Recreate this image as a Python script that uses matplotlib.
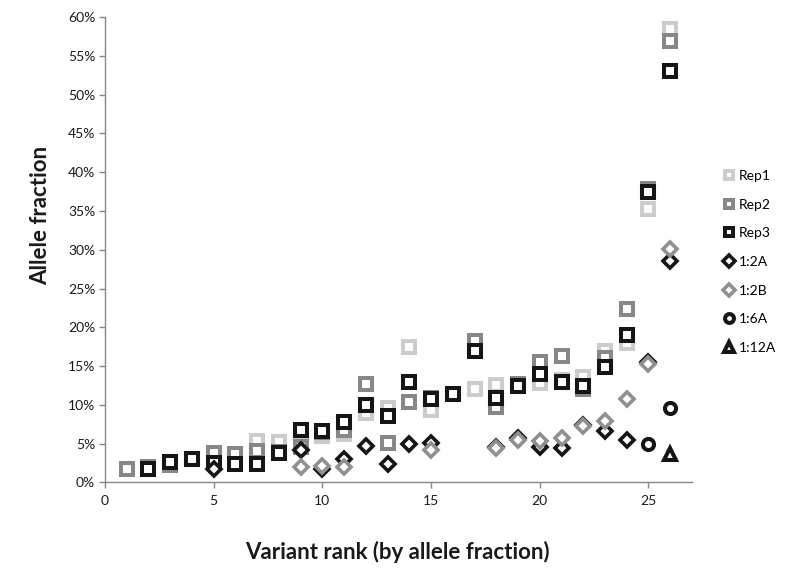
import numpy as np
import matplotlib
matplotlib.use("Agg")
import matplotlib.pyplot as plt
from matplotlib.ticker import FuncFormatter, MultipleLocator

plt.rcParams['font.family'] = ['Lato', 'DejaVu Sans']

# ---- data (allele fraction, %) ----
rep_rank = list(range(1, 27))
rep1 = [1.8, 2.0, 2.4, 3.0, 3.4, 3.4, 5.3, 5.2, 6.5, 6.0, 6.3, 9.0, 9.6, 17.4, 9.4,
        11.4, 12.1, 12.6, 12.6, 12.8, 13.2, 13.6, 17.0, 18.0, 35.2, 58.5]
rep2 = [1.8, 2.0, 2.3, 3.0, 3.8, 3.7, 4.1, 3.9, 4.6, 6.5, 6.8, 12.7, 5.1, 10.4, 10.9,
        11.4, 18.3, 9.7, 12.7, 15.5, 16.3, 12.0, 16.1, 22.3, 37.8, 56.9]
rep3 = [np.nan, 1.8, 2.6, 3.0, 2.5, 2.4, 2.4, 3.8, 6.8, 6.6, 7.8, 10.0, 8.6, 13.0, 10.8,
        11.4, 17.0, 10.9, 12.4, 14.0, 13.0, 12.4, 14.9, 19.0, 37.4, 53.0]

a12_rank = [5, 9, 10, 11, 12, 13, 14, 15, 18, 19, 20, 21, 22, 23, 24, 25, 26]
a12 = [1.8, 4.2, 1.7, 3.0, 4.7, 2.4, 5.0, 5.1, 4.6, 5.7, 4.6, 4.5, 7.4, 6.6, 5.5, 15.5, 28.6]

b12_rank = [9, 10, 11, 15, 18, 19, 20, 21, 22, 23, 24, 25, 26]
b12 = [2.0, 2.1, 2.0, 4.2, 4.4, 5.5, 5.3, 5.7, 7.3, 7.9, 10.8, 15.3, 30.1]

a16_rank = [25, 26]
a16 = [5.0, 9.6]

a112_rank = [26]
a112 = [3.7]

labels = ["Rep1", "Rep2", "Rep3", "1:2A", "1:2B", "1:6A", "1:12A"]

fig = plt.figure(figsize=(7.91, 5.72), dpi=100)
ax = fig.add_axes([0.1327, 0.1565, 0.8748 - 0.1327, 0.9703 - 0.1565])

light = '#cccccc'
mid = '#878787'
dark = '#151515'
dmid = '#909090'

sq = dict(linestyle='none', marker='s', markersize=8, markeredgewidth=2.9,
          markerfacecolor='white')
dm = dict(linestyle='none', marker='D', markersize=7.2, markeredgewidth=2.6,
          markerfacecolor='white')

h1, = ax.plot(rep_rank, rep1, markeredgecolor=light, color=light, **sq)
h2, = ax.plot(rep_rank, rep2, markeredgecolor=mid, color=mid, **sq)
h3, = ax.plot(rep_rank, rep3, markeredgecolor=dark, color=dark, **sq)
h4, = ax.plot(a12_rank, a12, markeredgecolor=dark, color=dark, **dm)
h5, = ax.plot(b12_rank, b12, markeredgecolor=dmid, color=dmid, **dm)
h6, = ax.plot(a16_rank, a16, linestyle='none', marker='o', markersize=8,
              markeredgewidth=2.9, markerfacecolor='white', markeredgecolor=dark, color=dark)
h7, = ax.plot(a112_rank, a112, linestyle='none', marker='^', markersize=9,
              markeredgewidth=2.9, markerfacecolor='white', markeredgecolor=dark, color=dark)

ax.set_xlim(0, 27)
ax.set_ylim(0, 60)
ax.xaxis.set_major_locator(MultipleLocator(5))
ax.yaxis.set_major_locator(MultipleLocator(5))
ax.yaxis.set_major_formatter(FuncFormatter(lambda v, p: f"{v:.0f}%"))

for s in ['top', 'right']:
    ax.spines[s].set_visible(False)
for s in ['left', 'bottom']:
    ax.spines[s].set_color('#888888')
    ax.spines[s].set_linewidth(1.0)
ax.tick_params(axis='both', direction='out', length=4, width=1.0, color='#888888',
               labelsize=10, labelcolor='#1a1a1a')
ax.tick_params(axis='y', pad=3)
ax.tick_params(axis='x', pad=5)

fig.text(0.051, 0.624, "Allele fraction", rotation=90, ha='center', va='center',
         fontsize=16, fontweight='bold', color='#1a1a1a')
fig.text(0.502, 0.035, "Variant rank (by allele fraction)", ha='center', va='center',
         fontsize=16, fontweight='bold', color='#1a1a1a')

leg = fig.legend([h1, h2, h3, h4, h5, h6, h7], labels, loc='upper left',
                 bbox_to_anchor=(0.914, 0.703), frameon=False, fontsize=10,
                 handlelength=0.9, handletextpad=0.25, labelspacing=1.2,
                 markerscale=0.8, borderpad=0, borderaxespad=0)

fig.savefig("out.png", dpi=100)
